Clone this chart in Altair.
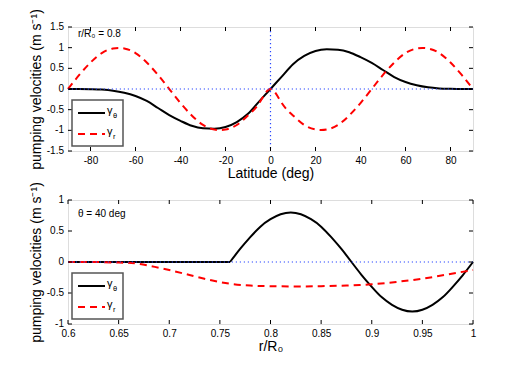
import altair as alt
import pandas as pd

# ---------------- data ----------------
lat = [-90, -85, -80, -75, -70, -65, -60, -55, -50, -45, -40, -35, -30, -25, -20, -15, -10, -5,
       0, 5, 10, 15, 20, 25, 30, 35, 40, 45, 50, 55, 60, 65, 70, 75, 80, 85, 90]
gtheta_top = [0.0, 0.0, -0.005, -0.015, -0.04, -0.09, -0.17, -0.29, -0.46, -0.63, -0.77, -0.89,
              -0.95, -0.96, -0.92, -0.80, -0.60, -0.30, 0.0, 0.30, 0.60, 0.80, 0.92, 0.96, 0.95,
              0.89, 0.77, 0.63, 0.46, 0.29, 0.17, 0.09, 0.04, 0.015, 0.005, 0.0, 0.0]
gr_top = [0.0, 0.34, 0.64, 0.87, 0.98, 0.98, 0.87, 0.64, 0.34, 0.0, -0.34, -0.64, -0.87, -0.98,
          -0.98, -0.87, -0.64, -0.34, 0.0, -0.34, -0.64, -0.87, -0.98, -0.98, -0.87, -0.64, -0.34,
          0.0, 0.34, 0.64, 0.87, 0.98, 0.98, 0.87, 0.64, 0.34, 0.0]

# bottom gamma_theta: flat segment, then oscillating segment
r_flat = [0.6, 0.65, 0.7, 0.75, 0.76]
gtheta_flat = [0.0, 0.0, 0.0, 0.0, 0.0]
r_wave = [0.76, 0.77, 0.78, 0.79, 0.80, 0.81, 0.82, 0.83, 0.84, 0.85, 0.86, 0.87, 0.88, 0.89, 0.90,
          0.91, 0.92, 0.93, 0.94, 0.95, 0.96, 0.97, 0.98, 0.99, 1.0]
gtheta_wave = [0.0, 0.21, 0.40, 0.57, 0.69, 0.77, 0.80, 0.77, 0.69, 0.57, 0.40, 0.21, 0.0, -0.21,
               -0.40, -0.57, -0.69, -0.77, -0.80, -0.77, -0.69, -0.57, -0.40, -0.21, 0.0]
r_r = [0.6, 0.625, 0.65, 0.67, 0.7, 0.72, 0.74, 0.76, 0.78, 0.8, 0.825, 0.85, 0.875, 0.9, 0.925,
       0.95, 0.975, 1.0]
gr_bot = [0.0, 0.0, -0.01, -0.03, -0.13, -0.21, -0.29, -0.35, -0.38, -0.39, -0.395, -0.39, -0.38,
          -0.36, -0.32, -0.27, -0.20, -0.13]

top_xticks = [-80, -60, -40, -20, 0, 20, 40, 60, 80]
top_yticks = [-1.5, -1, -0.5, 0, 0.5, 1, 1.5]
top_ylabels = ["-1.5", "-1", "-0.5", "0", "0.5", "1", "1.5"]
bot_xticks = [0.6, 0.65, 0.7, 0.75, 0.8, 0.85, 0.9, 0.95, 1.0]
bot_yticks = [-1, -0.5, 0, 0.5, 1]
bot_ylabels = ["-1", "-0.5", "0", "0.5", "1"]

W, H = 405, 124
FONT = "Liberation Sans"
LBL = "replace(format(datum.value, '~g'), '\u2212', '-')"
BLUE = "#2a48ff"


def panel(theta_segments, xs_r, ys_r, xdom, ydom, xticks, yticks, ylabels, xtitle, note, note_y,
          vline):
    xsc = alt.Scale(domain=xdom, nice=False, zero=False)
    ysc = alt.Scale(domain=ydom, nice=False, zero=False)
    xax = alt.Axis(values=xticks, labelExpr=LBL, title=xtitle, titlePadding=1)
    yax = alt.Axis(values=yticks, labels=False, title="pumping velocities (m s\u207b\u00b9)",
                   titlePadding=25)

    layers = []
    for j, (xs, ys, interp) in enumerate(theta_segments):
        df = pd.DataFrame({"x": xs, "y": ys})
        if j == 0:
            enc = dict(x=alt.X("x:Q", scale=xsc, axis=xax), y=alt.Y("y:Q", scale=ysc, axis=yax))
        else:
            enc = dict(x=alt.X("x:Q", scale=xsc), y=alt.Y("y:Q", scale=ysc))
        layers.append(alt.Chart(df).mark_line(color="black", strokeWidth=2,
                                              interpolate=interp).encode(**enc))

    dr = pd.DataFrame({"x": xs_r, "y": ys_r})
    layers.append(alt.Chart(dr).mark_line(color="#ff0000", strokeWidth=2, strokeDash=[7, 5],
                                          interpolate="natural").encode(
        x=alt.X("x:Q", scale=xsc), y=alt.Y("y:Q", scale=ysc)))

    hz = alt.Chart(pd.DataFrame({"y": [0]})).mark_rule(
        color=BLUE, strokeWidth=1.2, strokeDash=[1.2, 2.8]).encode(y=alt.Y("y:Q", scale=ysc))
    layers.append(hz)
    if vline:
        vz = alt.Chart(pd.DataFrame({"x": [0]})).mark_rule(
            color=BLUE, strokeWidth=1.2, strokeDash=[1.2, 2.8]).encode(x=alt.X("x:Q", scale=xsc))
        layers.append(vz)

    # inward tick marks on all four sides
    dxt = pd.DataFrame({"t": xticks})
    dyt = pd.DataFrame({"t": yticks, "lab": ylabels})
    tk = dict(color="black", strokeWidth=1)
    layers += [
        alt.Chart(dxt).mark_rule(**tk).encode(x=alt.X("t:Q", scale=xsc), y=alt.value(H), y2=alt.value(H - 4)),
        alt.Chart(dxt).mark_rule(**tk).encode(x=alt.X("t:Q", scale=xsc), y=alt.value(0), y2=alt.value(4)),
        alt.Chart(dyt).mark_rule(**tk).encode(y=alt.Y("t:Q", scale=ysc), x=alt.value(0), x2=alt.value(4)),
        alt.Chart(dyt).mark_rule(**tk).encode(y=alt.Y("t:Q", scale=ysc), x=alt.value(W), x2=alt.value(W - 4)),
        # y tick labels
        alt.Chart(dyt).mark_text(font=FONT, fontSize=10, align="right", baseline="middle",
                                 color="black").encode(
            y=alt.Y("t:Q", scale=ysc), x=alt.value(-4), text="lab:N"),
    ]

    # annotation
    one = pd.DataFrame({"a": [0]})
    layers.append(alt.Chart(one).mark_text(text=note, font=FONT, fontSize=10, align="left",
                                           baseline="middle", color="black").encode(
        x=alt.value(10), y=alt.value(note_y)))

    # legend box
    layers += [
        alt.Chart(one).mark_rect(fill="white", stroke="#555555", strokeWidth=1.5).encode(
            x=alt.value(4), x2=alt.value(55), y=alt.value(73), y2=alt.value(119)),
        alt.Chart(one).mark_rule(color="black", strokeWidth=2).encode(
            x=alt.value(10), x2=alt.value(37), y=alt.value(86)),
        alt.Chart(one).mark_rule(color="#ff0000", strokeWidth=2, strokeDash=[7, 5]).encode(
            x=alt.value(10), x2=alt.value(37), y=alt.value(107)),
        alt.Chart(one).mark_text(text="\u03b3", font=FONT, fontSize=11, align="left",
                                 baseline="middle", color="black").encode(x=alt.value(39), y=alt.value(84)),
        alt.Chart(one).mark_text(text="\u03b8", font=FONT, fontSize=7.5, align="left",
                                 baseline="middle", color="black").encode(x=alt.value(45), y=alt.value(89)),
        alt.Chart(one).mark_text(text="\u03b3", font=FONT, fontSize=11, align="left",
                                 baseline="middle", color="black").encode(x=alt.value(39), y=alt.value(105)),
        alt.Chart(one).mark_text(text="r", font=FONT, fontSize=7.5, align="left",
                                 baseline="middle", color="black").encode(x=alt.value(45), y=alt.value(110)),
    ]
    return alt.layer(*layers).properties(width=W, height=H)


top = panel([(lat, gtheta_top, "monotone")], lat, gr_top, [-90, 90], [-1.5, 1.5],
            top_xticks, top_yticks, top_ylabels, "Latitude (deg)", "r/R\u2080 = 0.8", 7, True)
bot = panel([(r_flat, gtheta_flat, "linear"), (r_wave, gtheta_wave, "natural")], r_r, gr_bot,
            [0.6, 1.0], [-1, 1], bot_xticks, bot_yticks, bot_ylabels, "r/R\u2080",
            "\u03b8 = 40 deg", 14, False)

chart = alt.vconcat(top, bot, spacing=49, bounds="flush").properties(
    padding={"left": 20, "top": 0, "right": 5, "bottom": 5}
).configure_view(stroke="black", strokeWidth=1).configure(background="white").configure_axis(
    ticks=False, domain=False, grid=False, labelOverlap=False, labelPadding=4, labelFontSize=10,
    labelFont=FONT, labelColor="black", titleFont=FONT, titleFontSize=14,
    titleFontWeight="normal", titleColor="black", labelFlush=False, labelBound=False
)

chart.save("out.html", embed_options={"renderer": "svg", "actions": False})
